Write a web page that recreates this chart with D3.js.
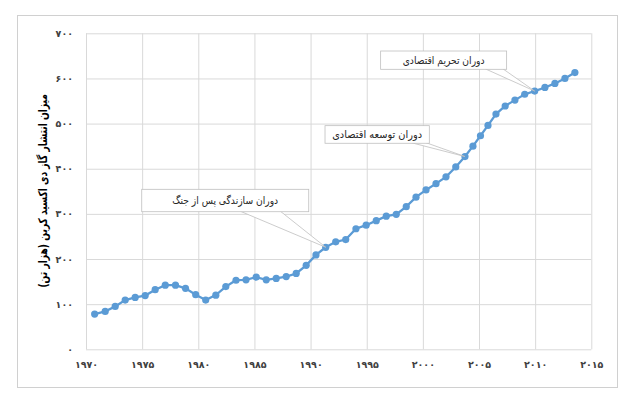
<!DOCTYPE html>
<html>
<head>
<meta charset="utf-8">
<script src="https://cdn.jsdelivr.net/npm/d3@7"></script>
<style>
  body { margin: 0; background: #fff; }
  svg text { font-family: "DejaVu Sans", sans-serif; }
</style>
</head>
<body>
<div id="chart"></div>
<script>
// ----------------------------
// Data
// ----------------------------
var years = [1970.77, 1971.71, 1972.60, 1973.49, 1974.38, 1975.27, 1976.16, 1977.06, 1977.97, 1978.86,
  1979.77, 1980.66, 1981.56, 1982.45, 1983.36, 1984.25, 1985.16, 1986.05, 1986.94, 1987.83,
  1988.72, 1989.61, 1990.48, 1991.35, 1992.24, 1993.13, 1994.04, 1994.95, 1995.85, 1996.74,
  1997.63, 1998.52, 1999.39, 2000.28, 2001.17, 2002.06, 2002.93, 2003.75, 2004.46, 2005.13,
  2005.80, 2006.51, 2007.33, 2008.20, 2009.07, 2009.96, 2010.87, 2011.76, 2012.65, 2013.54];

var emissions = [78, 84, 95, 109, 115, 119, 132, 142, 142, 135,
  121, 109, 120, 139, 153, 154, 160, 154, 157, 161,
  168, 186, 209, 226, 238, 243, 267, 275, 285, 295,
  299, 316, 337, 353, 367, 382, 404, 427, 450, 473,
  496, 521, 539, 552, 565, 572, 580, 589, 600, 613];

var xTicks = [1970, 1975, 1980, 1985, 1990, 1995, 2000, 2005, 2010, 2015];
var yTicks = [0, 100, 200, 300, 400, 500, 600, 700];

var yTitle = "میزان انتشار گاز دی اکسید کربن (هزار تن)";

// callout labels and the point each one points at
var calloutTexts = ["دوران سازندگی پس از جنگ", "دوران توسعه اقتصادی", "دوران تحریم اقتصادی"];
var calloutTargets = [23, 37, 45];

// ----------------------------
// Layout
// ----------------------------
var W = 638, H = 400;
var margin = {left: 86, top: 33.3, right: 638 - 591.3, bottom: 400 - 349.3};

var persianDigits = "۰۱۲۳۴۵۶۷۸۹";
function fa(n) {
  return String(n).replace(/[0-9]/g, d => persianDigits[+d]);
}

// squeeze a text node sideways so it takes the width we want
function fitWidth(sel, width) {
  var w = sel.node().getComputedTextLength();
  var k = Math.min(1, width / w);
  var cx = +sel.attr("x"), cy = +sel.attr("y");
  sel.attr("transform", `translate(${cx},${cy}) scale(${k},1) translate(${-cx},${-cy})`);
}

var svg = d3.select("#chart").append("svg")
  .attr("width", W)
  .attr("height", H);

// chart area border
svg.append("rect")
  .attr("x", 17.5).attr("y", 15.5)
  .attr("width", 600).attr("height", 372)
  .attr("fill", "#fff")
  .attr("stroke", "#d0d0d0");

var x = d3.scaleLinear().domain([1970, 2015]).range([margin.left, W - margin.right]);
var y = d3.scaleLinear().domain([0, 700]).range([H - margin.bottom, margin.top]);

// gridlines
svg.append("g")
  .attr("transform", `translate(${margin.left},0)`)
  .call(d3.axisLeft(y).tickValues(yTicks).tickSize(-(W - margin.left - margin.right)).tickFormat(""))
  .call(g => g.select(".domain").remove())
  .call(g => g.selectAll("line").attr("stroke", "#d9d9d9"));

svg.append("g")
  .attr("transform", `translate(0,${H - margin.bottom})`)
  .call(d3.axisBottom(x).tickValues(xTicks).tickSize(-(H - margin.top - margin.bottom)).tickFormat(""))
  .call(g => g.select(".domain").remove())
  .call(g => g.selectAll("line").attr("stroke", "#d9d9d9"));

// tick labels
svg.append("g")
  .attr("transform", `translate(${margin.left},0)`)
  .call(d3.axisLeft(y).tickValues(yTicks).tickSize(0).tickPadding(13).tickFormat(fa))
  .call(g => g.select(".domain").remove())
  .call(g => g.selectAll("text")
    .attr("fill", "#404040")
    .attr("font-size", 9.5)
    .attr("font-weight", "bold"));

svg.append("g")
  .attr("transform", `translate(0,${H - margin.bottom})`)
  .call(d3.axisBottom(x).tickValues(xTicks).tickSize(0).tickPadding(12).tickFormat(fa))
  .call(g => g.select(".domain").remove())
  .call(g => g.selectAll("text")
    .attr("fill", "#404040")
    .attr("font-size", 9.5)
    .attr("font-weight", "bold"));

// y title
var titleG = svg.append("g")
  .attr("transform", `translate(43,${(margin.top + H - margin.bottom) / 2 - 0.5}) rotate(-90)`);
titleG.append("text")
  .attr("x", 0).attr("y", 0)
  .attr("text-anchor", "middle")
  .attr("dominant-baseline", "central")
  .attr("font-size", 12)
  .attr("font-weight", "bold")
  .attr("fill", "#000")
  .attr("direction", "rtl")
  .text(yTitle)
  .call(fitWidth, 194);

// ----------------------------
// Line and markers
// ----------------------------
var points = years.map((yr, i) => ({year: yr, value: emissions[i]}));

svg.append("path")
  .datum(points)
  .attr("fill", "none")
  .attr("stroke", "#5b9bd5")
  .attr("stroke-width", 2.25)
  .attr("d", d3.line().x(d => x(d.year)).y(d => y(d.value)));

svg.selectAll("circle.pt")
  .data(points)
  .enter()
  .append("circle")
  .attr("class", "pt")
  .attr("cx", d => x(d.year))
  .attr("cy", d => y(d.value))
  .attr("r", 3.6)
  .attr("fill", "#5b9bd5");

// ----------------------------
// Callouts (box centre in data units, size in px, wedge base as fraction of width)
// ----------------------------
var boxes = [
  {cx: 1982.4, cy: 329.6, w: 167, h: 22.4, b0: 0.59, b1: 0.83, tw: 106},
  {cx: 1995.93, cy: 475.9, w: 104.3, h: 17.6, b0: 0.83, b1: 0.97, tw: 90},
  {cx: 2001.85, cy: 640.5, w: 126, h: 18.3, b0: 0.83, b1: 0.97, tw: 82}
];

boxes.forEach(function(b, i) {
  var left = x(b.cx) - b.w / 2, top = y(b.cy) - b.h / 2;
  var tip = points[calloutTargets[i]];
  var g = svg.append("g");
  var bx0 = left + b.w * b.b0, bx1 = left + b.w * b.b1, by = top + b.h;
  g.append("path")
    .attr("d", `M${bx0},${by - 0.5}L${x(tip.year)},${y(tip.value)}L${bx1},${by - 0.5}`)
    .attr("fill", "#fff")
    .attr("stroke", "#bfbfbf")
    .attr("stroke-width", 0.8);
  g.append("rect")
    .attr("x", left).attr("y", top)
    .attr("width", b.w).attr("height", b.h)
    .attr("fill", "#fff")
    .attr("stroke", "#bfbfbf")
    .attr("stroke-width", 0.8);
  g.append("text")
    .attr("x", left + b.w / 2)
    .attr("y", top + b.h / 2)
    .attr("text-anchor", "middle")
    .attr("dominant-baseline", "central")
    .attr("direction", "rtl")
    .attr("font-size", 10.5)
    .attr("fill", "#262626")
    .text(calloutTexts[i])
    .call(fitWidth, b.tw);
});
</script>
</body>
</html>
